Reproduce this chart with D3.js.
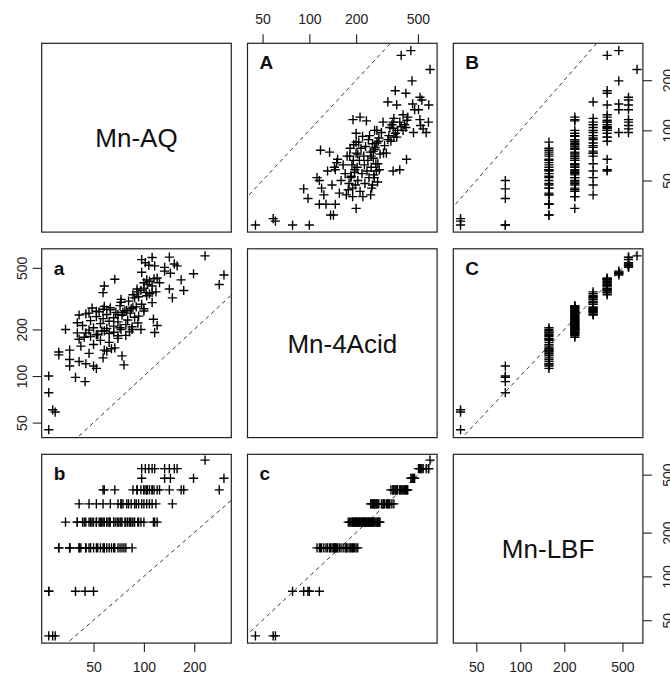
<!DOCTYPE html>
<html>
<head>
<meta charset="utf-8">
<script src="https://cdnjs.cloudflare.com/ajax/libs/d3/7.8.5/d3.min.js"></script>
<style>
body { margin: 0; background: #fff; }
svg text { font-family: "Liberation Sans", Arial, sans-serif; }
</style>
</head>
<body>
<svg id="chart" width="670" height="674"></svg>
<script>

// variable names shown on the diagonal
var varNames = ["Mn-AQ", "Mn-4Acid", "Mn-LBF"];

// one entry per sample, grouped by the (stepped) Mn-LBF value
var mn4Acid = [
  45, 58.5, 60.5,
  78, 100, 92, 98, 116,
  112, 116, 118, 120, 124, 128, 131, 135, 137, 140, 143, 145, 147, 147, 150,
  152, 156, 160, 165, 170, 173, 175, 180, 183, 186, 190, 192, 196, 200, 205,
  178, 182, 185, 188, 190, 191, 193, 195, 198, 200, 200, 203, 205, 208, 210,
  212, 215, 218, 220, 221, 224, 226, 228, 230, 233, 235, 238, 240, 242, 244,
  247, 250, 252, 255, 258, 260, 264, 268, 272, 275, 278, 282, 285, 200, 212,
  248, 255, 262, 270, 276, 250, 258, 265, 263, 272, 280, 291, 298, 300, 305,
  313, 320, 325, 330, 340, 350, 320,
  346, 382, 422, 335, 346, 350, 358, 365, 370, 382, 390, 401, 401, 410, 418,
  425, 430, 346, 365, 357, 418, 390,
  450, 458, 462, 476, 468,
  565, 540, 520, 584, 515, 504, 587, 530, 515,
  598
];

var mnAQ = [
  27, 29.5, 28.5,
  27, 27, 44.5, 39, 50,
  52, 36, 76, 45, 41, 36, 57, 74, 31, 47, 31, 60, 58, 36, 64,
  67, 42, 50, 62, 55, 41, 70, 48, 78, 53, 45, 66, 58, 85, 72,
  44, 70, 52, 62, 40, 116, 82, 56, 47, 96, 73, 60, 50, 85, 66,
  43, 78, 55, 92, 40, 70, 62, 48, 80, 114, 57, 66, 88, 52, 93,
  74, 60, 45, 83, 68, 54, 77, 63, 100, 49, 86, 58, 72, 34, 120,
  41, 47, 52, 57, 63, 70, 75, 79, 100, 84, 90, 97, 112, 73, 81,
  73, 88, 93, 104, 108, 118, 148,
  57, 58, 67, 86, 103, 91, 96, 91, 100, 112, 105, 100, 124, 108, 104,
  115, 120, 112, 142, 173, 167, 282,
  301, 198, 144, 133, 97,
  97, 102, 107, 112, 116, 133, 142, 152, 158,
  232
];

var mnLBF = [
  39, 39, 39,
  79, 79, 79, 79, 79,
  157, 157, 157, 157, 157, 157, 157, 157, 157, 157, 157, 157, 157, 157, 157,
  157, 157, 157, 157, 157, 157, 157, 157, 157, 157, 157, 157, 157, 157, 157,
  236, 236, 236, 236, 236, 236, 236, 236, 236, 236, 236, 236, 236, 236, 236,
  236, 236, 236, 236, 236, 236, 236, 236, 236, 236, 236, 236, 236, 236, 236,
  236, 236, 236, 236, 236, 236, 236, 236, 236, 236, 236, 236, 236, 236, 236,
  315, 315, 315, 315, 315, 315, 315, 315, 315, 315, 315, 315, 315, 315, 315,
  315, 315, 315, 315, 315, 315, 315,
  393, 393, 393, 393, 393, 393, 393, 393, 393, 393, 393, 393, 393, 393, 393,
  393, 393, 393, 393, 393, 393, 393,
  472, 472, 472, 472, 472,
  550, 550, 550, 550, 550, 550, 550, 550, 550,
  629
];

// axis limits (log scale) and tick labels
var limAQ = [24.5, 333];
var lim4Acid = [40, 664];
var limLBF = [34.8, 690];
var tickAQ = [50, 100, 200];
var tick4Acid = [50, 100, 200, 500];
var tickLBF = [50, 100, 200, 500];

var cols = [mnAQ, mn4Acid, mnLBF];
var lims = [limAQ, lim4Acid, limLBF];
var ticks = [tickAQ, tick4Acid, tickLBF];
var tags = {"0,1": "A", "0,2": "B", "1,2": "C", "1,0": "a", "2,0": "b", "2,1": "c"};

var svg = d3.select("#chart");
var padLeft = 41.7, padTop = 43.3, stepX = 205.8, stepY = 205.5, pw = 189.6, ph = 188.8;
var arm = 4.6;

function xScale(j) { return d3.scaleLog().domain(lims[j]).range([0, pw]); }
function yScale(i) { return d3.scaleLog().domain(lims[i]).range([ph, 0]); }

function styleAxis(a) {
  a.select(".domain").remove();
  a.attr("font-family", null).attr("font-size", 14);
  a.selectAll("line").attr("stroke", "#222").attr("stroke-width", 1.1);
  a.selectAll("text").attr("fill", "#222");
}

for (var i = 0; i < 3; i++) {
  for (var j = 0; j < 3; j++) {
    var g = svg.append("g")
      .attr("transform", "translate(" + (padLeft + j * stepX) + "," + (padTop + i * stepY) + ")");

    if (i == j) {
      g.append("text")
        .attr("x", pw / 2).attr("y", ph / 2)
        .attr("dy", "0.36em")
        .attr("text-anchor", "middle")
        .attr("font-size", 26)
        .attr("fill", "#111")
        .text(varNames[i]);
    } else {
      var x = xScale(j), y = yScale(i);
      var xs = cols[j], ys = cols[i];

      g.append("clipPath").attr("id", "clip" + i + j)
        .append("rect").attr("width", pw).attr("height", ph);

      var plot = g.append("g").attr("clip-path", "url(#clip" + i + j + ")");

      // 1:1 line
      plot.append("line")
        .attr("x1", x(1)).attr("y1", y(1))
        .attr("x2", x(5000)).attr("y2", y(5000))
        .attr("stroke", "#222")
        .attr("stroke-width", 0.9)
        .attr("stroke-dasharray", "4,3.5");

      plot.selectAll("path.pt")
        .data(d3.range(xs.length))
        .enter().append("path")
        .attr("class", "pt")
        .attr("d", function(k) {
          var px = x(xs[k]), py = y(ys[k]);
          return "M" + (px - arm) + "," + py + "h" + (2 * arm) +
                 "M" + px + "," + (py - arm) + "v" + (2 * arm);
        })
        .attr("stroke", "#000")
        .attr("stroke-width", 1.4)
        .attr("fill", "none");

      g.append("text")
        .attr("x", 12).attr("y", 26)
        .attr("font-size", 19)
        .attr("font-weight", "bold")
        .attr("fill", "#111")
        .text(tags[i + "," + j]);
    }

    g.append("rect")
      .attr("width", pw).attr("height", ph)
      .attr("fill", "none")
      .attr("stroke", "#222")
      .attr("stroke-width", 1.2);

    // axes, alternating like R's pairs()
    var ax = null;
    if (i == 0 && j % 2 == 1) {
      ax = g.append("g").call(d3.axisTop(xScale(j)).tickValues(ticks[j]).tickSize(9).tickPadding(10).tickFormat(d3.format("d")));
    }
    if (i == 2 && j % 2 == 0) {
      ax = g.append("g").attr("transform", "translate(0," + ph + ")")
        .call(d3.axisBottom(xScale(j)).tickValues(ticks[j]).tickSize(9).tickPadding(10).tickFormat(d3.format("d")));
    }
    if (ax) styleAxis(ax);

    if (j == 0 && i % 2 == 1) {
      var axl = g.append("g").call(d3.axisLeft(yScale(i)).tickValues(ticks[i]).tickSize(9).tickFormat(d3.format("d")));
      styleAxis(axl);
      axl.selectAll("text")
        .attr("transform", "rotate(-90)")
        .attr("x", 0).attr("y", -15).attr("dy", 0)
        .attr("text-anchor", "middle");
    }
    if (j == 2 && i % 2 == 0) {
      var axr = g.append("g").attr("transform", "translate(" + pw + ",0)")
        .call(d3.axisRight(yScale(i)).tickValues(ticks[i]).tickSize(9).tickFormat(d3.format("d")));
      styleAxis(axr);
      axr.selectAll("text")
        .attr("transform", "rotate(-90)")
        .attr("x", 0).attr("y", 30).attr("dy", 0)
        .attr("text-anchor", "middle");
    }
  }
}

</script>
</body>
</html>
